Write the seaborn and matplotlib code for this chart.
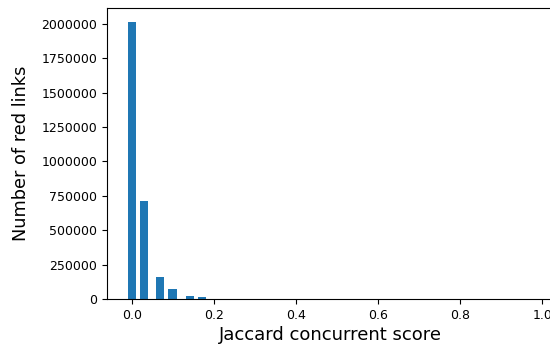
import matplotlib
matplotlib.use("Agg")
import matplotlib.pyplot as plt
import seaborn as sns
import pandas as pd

scores = [-0.0015, 0.029, 0.068, 0.098, 0.140, 0.169]
counts = [2013000, 712000, 160000, 71000, 23000, 14000]

df = pd.DataFrame({"score": scores, "count": counts})

fig = plt.figure(figsize=(5.5, 3.47), dpi=100)
ax = fig.add_axes([107 / 550, 1 - 299 / 347, 446 / 550, (299 - 8.3) / 347])
sns.barplot(data=df, x="score", y="count", native_scale=True, width=0.69,
            color="#1f77b4", saturation=1, errorbar=None, ax=ax)
ax.set_xlim(-0.062, 1.026)
ax.set_ylim(0, 2114000)
ax.set_xticks([0.0, 0.2, 0.4, 0.6, 0.8, 1.0])
ax.set_yticks([0, 250000, 500000, 750000, 1000000, 1250000, 1500000, 1750000, 2000000])
ax.ticklabel_format(style="plain", axis="y", useOffset=False)
ax.spines["right"].set_visible(False)
ax.tick_params(labelsize=9)
ax.set_xlabel("Jaccard concurrent score", fontsize=13, labelpad=3)
ax.set_ylabel("Number of red links", fontsize=12.8, labelpad=8)
fig.savefig("out.png", dpi=100)
